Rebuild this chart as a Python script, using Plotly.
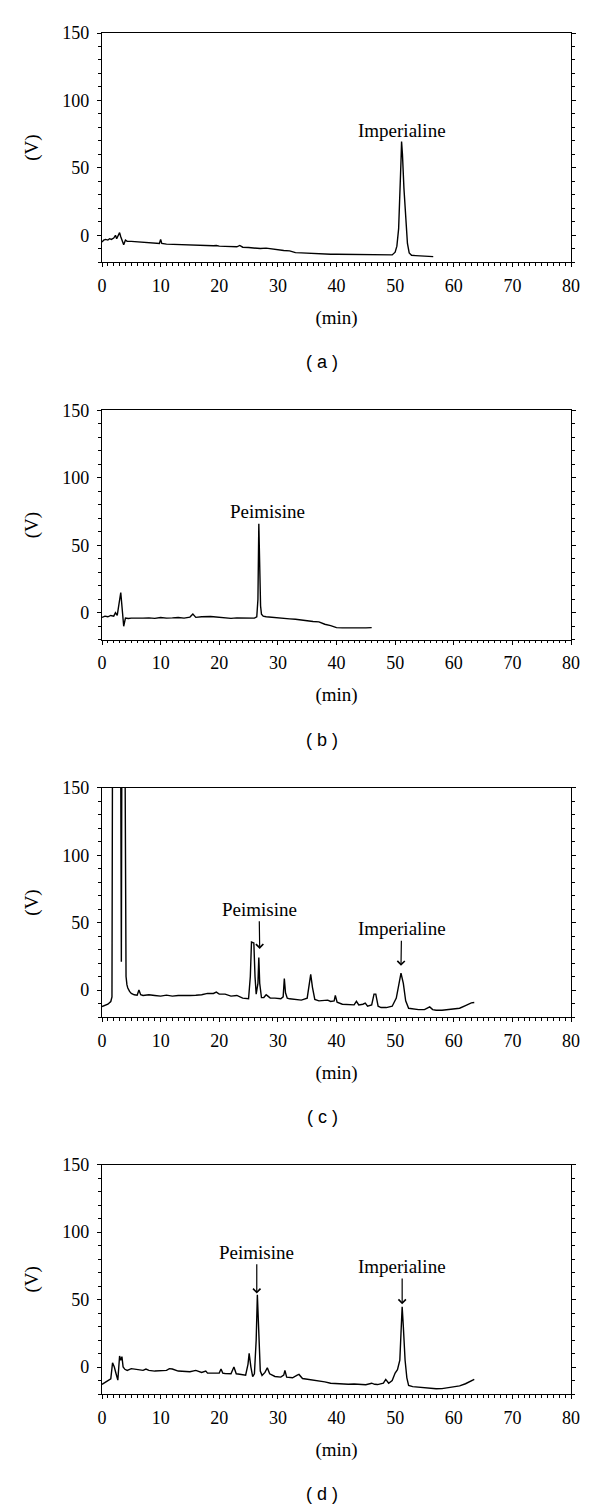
import plotly.graph_objects as go

# ---------------- data ----------------
a_time = [0, 0.3, 0.6, 1.0, 1.3, 1.6, 2.0, 2.3, 2.5, 2.7, 3.0, 3.2, 3.5, 3.7, 4.0, 4.3, 5, 6, 7, 8, 9, 9.8, 10.0, 10.2,
          11, 12, 13, 14, 15, 16, 17, 18, 19, 19.5, 20, 21, 22, 23, 23.5, 24, 25, 26, 27, 28, 29, 30, 31, 32, 33, 34,
          35, 36, 37, 38, 39, 40, 42, 44, 46, 48, 49, 49.5, 50.0, 50.3, 50.6, 50.8, 51.0, 51.1, 51.25, 51.5, 51.8,
          52.1, 52.4, 52.8, 53.5, 54, 55, 56, 56.5]
a_signal = [-5, -3.5, -3, -3.5, -2.5, -3, -2, 0, -2.5, -1, 2, -1, -4, -7, -3.5, -4.5, -4.5, -4.8, -5, -5.5, -6, -6, -3,
            -6, -6.5, -6.7, -7, -6.8, -7.3, -7.5, -7.8, -8, -7.7, -7.5, -8, -8.2, -8.4, -8.5, -7.5, -8.8, -9, -9.3,
            -9.8, -9.5, -10.2, -10.8, -11.2, -11.5, -12.8, -13, -13.3, -13.3, -13.8, -14, -14, -14, -14.2, -14.3,
            -14.4, -14.5, -14.5, -14.5, -12.5, -8, 5, 25, 55, 69.6, 60, 35, 10, -6, -13, -14.8, -15, -15.2, -15.5,
            -15.7, -15.8]

b_time = [0, 0.5, 1, 1.5, 2, 2.3, 2.6, 2.9, 3.2, 3.5, 3.7, 4.0, 4.5, 5, 6, 7, 8, 9, 10, 11, 12, 13, 14, 15, 15.5, 16,
          17, 18, 18.5, 19, 20, 21, 22, 23, 24, 25, 26, 26.4, 26.6, 26.75, 26.9, 27.05, 27.2, 27.5, 28, 29, 30, 31,
          32, 33, 34, 35, 36, 37, 38, 39, 40, 41, 42, 43, 44, 45, 46]
b_signal = [-3.5, -2.5, -3, -2, -2.5, 0, -2, 8, 15, 0, -10, -4, -4.3, -4, -4.2, -4, -3.8, -4.2, -3.5, -4, -3.8, -3.5,
            -4, -3.2, -1, -3.4, -3, -2.5, -2.8, -3, -3.5, -4, -4.2, -3.8, -4, -4.2, -4, -3, 10, 66, 30, 5, -1, -2.5,
            -3, -3.5, -3.8, -4.2, -4.5, -4.8, -5.5, -6.2, -6.5, -6.8, -8.5, -9.5, -11, -11.2, -11.3, -11.2, -11.3,
            -11.2, -11]

c_time = [0, 0.5, 1.0, 1.5, 1.7, 1.85, 3.1, 3.3, 3.45, 3.8, 4.0, 4.1, 4.25, 4.4, 4.7, 5.0, 5.5, 6.0, 6.3, 6.6, 7, 8,
          9, 10, 11, 12, 13, 14, 15, 16, 17, 18, 19, 19.5, 20, 21, 22, 23, 24, 25, 25.3, 25.5, 25.9, 26.1, 26.3,
          26.6, 26.75, 26.9, 27.2, 27.6, 28.0, 28.3, 28.7, 29.5, 30.5, 30.9, 31.1, 31.3, 31.6, 32, 33, 34, 35.0,
          35.4, 35.6, 35.9, 36.3, 37, 38, 38.5, 39, 39.6, 39.8, 40.1, 41, 42, 43, 43.4, 43.8, 44.5, 44.9, 45.3, 46,
          46.4, 46.7, 47.1, 47.6, 48.5, 49.5, 50.2, 50.6, 51.0, 51.4, 51.8, 52.3, 53, 54, 55, 55.9, 56.4, 57, 58,
          59, 60, 61, 62, 63, 63.5]
c_signal = [-12.2, -11.5, -10.5, -8.5, -5, 300, 300, 21, 300, 300, 15, 10, 4, 1.5, -1, -2.5, -3.5, -3.8, 0, -3.5, -4,
            -3.5, -4, -4.5, -3.8, -4.5, -4, -4.2, -4, -3.8, -3.5, -2.5, -2.5, -1.5, -3, -3, -4.5, -4, -6, -6.5, 10,
            35.6, 35, 10, -3, 5, 24.2, 5, -5.6, -5.5, -3.5, -4.5, -6, -6, -6.5, -5, 8.6, -2, -6, -6.5, -7, -7.5, -6,
            5, 11.6, 2, -7, -8, -7.5, -7.5, -8.5, -8, -4, -9, -10.5, -11, -11, -8.4, -11, -10.5, -9.7, -12, -11, -3,
            -3, -12, -13, -13, -12, -6, 5, 12.6, 5, -8, -13.5, -14, -14.5, -14.5, -12.5, -14.5, -15, -15, -14.5, -14,
            -13.5, -11.5, -9.5, -9.2]

d_time = [0, 0.5, 1.0, 1.5, 1.8, 2.1, 2.4, 2.7, 3.0, 3.2, 3.4, 3.6, 3.9, 4.3, 5, 6, 7, 7.5, 8, 9, 10, 11, 11.5, 12,
          13, 14, 15, 16, 17, 17.7, 18, 19, 20, 20.3, 20.6, 21, 22, 22.5, 22.9, 23.5, 24.5, 24.9, 25.1, 25.4, 25.7,
          26.0, 26.3, 26.5, 26.7, 27.0, 27.3, 27.8, 28.2, 28.6, 29.5, 30.5, 31.0, 31.2, 31.5, 32.5, 33.3, 33.6,
          34.2, 35, 36, 37, 38, 39, 40, 41, 42, 43, 44, 45, 46, 46.5, 47, 48, 48.4, 48.9, 49.5, 50.0, 50.4, 50.8,
          51.0, 51.2, 51.4, 51.7, 52.0, 52.3, 53, 54, 55, 56, 57, 58, 59, 60, 61, 62, 63, 63.5]
d_signal = [-12.9, -11.5, -10, -8.7, 3.2, 0, -5, -9.7, 8.2, 5, 7.7, 0, -1.7, -2.5, -1.2, -2, -2.5, -1.5, -2.5, -3, -3,
            -2.5, -1.2, -1.5, -3, -3.5, -3.5, -2.5, -4, -3, -4.5, -4.5, -4.5, -1.5, -4.5, -4.8, -5, 0, -5, -5.4, -6,
            2, 10.1, 0, -7.2, -5, 20, 53.5, 25, -3, -6.2, -4, -0.5, -5, -7, -7.5, -6, -2.5, -7.5, -8, -6, -5.5, -8.5,
            -9, -9.5, -10.5, -11, -12, -12.4, -12.5, -12.8, -12.6, -13, -13.1, -12, -12.8, -13, -12, -9.2, -12, -10,
            -4.5, -2, 5, 25, 44.6, 30, 5, -8, -13.6, -14.5, -15, -15.3, -15.8, -16.1, -16, -15.5, -14.6, -14, -12.4,
            -10.5, -9.2]

panel_names = ["( a )", "( b )", "( c )", "( d )"]
x_ticks = [0, 10, 20, 30, 40, 50, 60, 70, 80]
y_ticks = [0, 50, 100, 150]

# labels: (panel index, text, text x, text y, arrow tip x, arrow tip y or None)
labels = [
    (0, "Imperialine", 51.2, 78, None, None),
    (1, "Peimisine", 28.2, 75, None, None),
    (2, "Peimisine", 26.8, 60, 26.9, 30.5),
    (2, "Imperialine", 51.1, 45.5, 51.0, 18),
    (3, "Peimisine", 26.4, 85, 26.4, 54.5),
    (3, "Imperialine", 51.2, 74.5, 51.2, 46.5),
]

# ---------------- figure ----------------
series = [(a_time, a_signal), (b_time, b_signal), (c_time, c_signal), (d_time, d_signal)]
domains = [[0.8315, 1.0], [0.5542, 0.7227], [0.2770, 0.4453], [0.0, 0.1685]]

SERIF = "Liberation Serif"
SANS = "Liberation Sans"

fig = go.Figure()
layout = {}
annotations = []
for i, (t, s) in enumerate(series):
    suf = "" if i == 0 else str(i + 1)
    fig.add_trace(go.Scatter(x=t, y=s, mode="lines", xaxis="x" + suf, yaxis="y" + suf,
                             line=dict(color="black", width=1.4), showlegend=False, hoverinfo="skip"))
    layout["xaxis" + suf] = dict(
        domain=[0, 1], anchor="y" + suf, range=[0, 80], tickmode="array", tickvals=x_ticks,
        ticks="outside", ticklen=4, tickwidth=1.2, tickcolor="black",
        showline=True, linecolor="black", linewidth=1.3, mirror=True,
        showgrid=False, zeroline=False, ticklabelstandoff=3,
        tickfont=dict(family=SERIF, size=18, color="black"),
        minor=dict(dtick=1, tick0=0, ticks="outside", ticklen=2.5, tickwidth=1, tickcolor="black", showgrid=False),
        title=dict(text="(min)", font=dict(family=SERIF, size=19, color="black"), standoff=15),
        automargin=False, fixedrange=True,
    )
    layout["yaxis" + suf] = dict(
        domain=domains[i], anchor="x" + suf, range=[-20, 150], tickmode="array", tickvals=y_ticks,
        ticks="outside", ticklen=4, tickwidth=1.2, tickcolor="black",
        showline=True, linecolor="black", linewidth=1.3, mirror="ticks",
        showgrid=False, zeroline=False, ticklabelstandoff=4,
        tickfont=dict(family=SERIF, size=18, color="black"),
        minor=dict(dtick=10, tick0=0, ticks="outside", ticklen=2.5, tickwidth=1, tickcolor="black", showgrid=False),
        title=dict(text="(V)", font=dict(family=SERIF, size=19, color="black"), standoff=18),
        automargin=False, fixedrange=True,
    )
    annotations.append(dict(text=panel_names[i], xref="x" + suf + " domain", yref="y" + suf + " domain",
                            x=0.47, y=0, yshift=-100, showarrow=False, xanchor="center", yanchor="middle",
                            font=dict(family=SANS, size=18, color="black")))

for (p, txt, tx, ty, hx, hy) in labels:
    suf = "" if p == 0 else str(p + 1)
    if hx is None:
        annotations.append(dict(text=txt, x=tx, y=ty, xref="x" + suf, yref="y" + suf, showarrow=False,
                                xanchor="center", yanchor="middle",
                                font=dict(family=SERIF, size=19, color="black")))
    else:
        annotations.append(dict(text=txt, x=hx, y=hy, ax=tx, ay=ty, xref="x" + suf, yref="y" + suf,
                                axref="x" + suf, ayref="y" + suf, showarrow=True, arrowhead=4,
                                arrowsize=1.2, arrowwidth=1.2, arrowcolor="black", standoff=0,
                                font=dict(family=SERIF, size=19, color="black")))

# the page body adds an 8px offset, so the figure is sized to fit inside the window
fig.update_layout(
    width=592, height=1502,
    margin=dict(l=94, r=29, t=25, b=116, pad=0),
    paper_bgcolor="white", plot_bgcolor="white",
    annotations=annotations,
    **layout,
)

fig.write_html("out.html")
